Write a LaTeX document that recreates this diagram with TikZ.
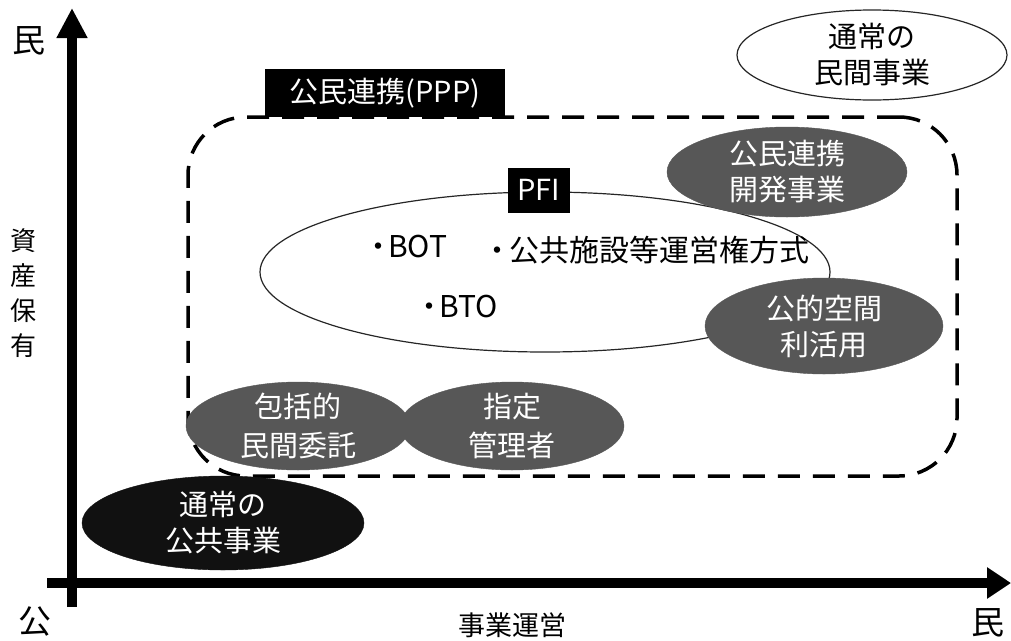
\documentclass[tikz,border=0pt]{standalone}
\usepackage{fontspec}
\setmainfont{Noto Sans CJK JP}
\usetikzlibrary{shapes.geometric,arrows.meta}
\definecolor{blobgray}{HTML}{575757}
\definecolor{darkblob}{HTML}{111111}
\tikzset{
  axis/.style={line width=10pt},
  blob/.style={shape=ellipse,inner sep=0pt,fill=blobgray,draw=blobgray},
  darkellipse/.style={shape=ellipse,inner sep=0pt,fill=darkblob,draw=darkblob},
  whiteellipse/.style={shape=ellipse,inner sep=0pt,fill=white,draw=black!85,line width=1.2pt},
  wtext/.style={text=white,font=\fontsize{29}{36}\selectfont,align=center,inner sep=0pt},
  btext/.style={text=black,font=\fontsize{29}{36}\selectfont,align=center,inner sep=0pt},
  itemtext/.style={text=black,font=\fontsize{30}{36}\selectfont,inner sep=0pt},
  tagbox/.style={fill=black,text=white,font=\fontsize{29}{32}\selectfont,inner sep=0pt},
  axlabel/.style={font=\fontsize{33}{36}\selectfont,inner sep=0pt},
  pppframe/.style={draw=black,line width=3.5pt,dash pattern=on 22pt off 13pt,rounded corners=58pt},
}
\begin{document}
\begin{tikzpicture}[x=1pt,y=-1pt]
\useasboundingbox (0,0) rectangle (1011,640);
% frame
\node[pppframe,minimum width=769pt,minimum height=359pt] (ppp) at (572.5,296.5) {};
% ellipses
\node[whiteellipse,minimum width=270pt,minimum height=90pt] (privE) at (872,55) {};
\node[btext] (privT) at (privE.center) {通常の\\民間事業};
\node[whiteellipse,minimum width=570pt,minimum height=160pt] (pfiE) at (545,272) {};
\node[blob,minimum width=240pt,minimum height=90pt] (devE) at (787,172) {};
\node[wtext] (devT) at (devE.center) {公民連携\\開発事業};
\node[blob,minimum width=238pt,minimum height=96pt] (pubE) at (824,326) {};
\node[wtext] (pubT) at (pubE.center) {公的空間\\利活用};
\node[blob,minimum width=224pt,minimum height=88pt] (compE) at (298,426) {};
\node[wtext,font=\fontsize{29}{39}\selectfont] (compT) at (compE.center) {包括的\\民間委託};
\node[blob,minimum width=224pt,minimum height=88pt] (desE) at (512,426) {};
\node[wtext,font=\fontsize{29}{39}\selectfont] (desT) at (desE.center) {指定\\管理者};
\node[darkellipse,minimum width=282pt,minimum height=94pt] (pubWorkE) at (223,523) {};
\node[wtext] (pubWorkT) at (pubWorkE.center) {通常の\\公共事業};
% items
\node[itemtext,anchor=west] (bot) at (363,247) {・\kern-5pt BOT};
\node[itemtext,anchor=west] (conc) at (482,250) {・\kern-3pt 公共施設等運営権方式};
\node[itemtext,anchor=west] (bto) at (414,306) {・\kern-5pt BTO};
% tag boxes
\node[tagbox,minimum width=240pt,minimum height=48pt] (pppTag) at (385,93) {公民連携(PPP)};
\node[tagbox,minimum width=62pt,minimum height=45pt] (pfiTag) at (539,190) {PFI};
% axes
\coordinate (vStart) at (72,607);
\coordinate (vEnd) at (72,8);
\coordinate (hStart) at (47,583);
\coordinate (hEnd) at (1011,583);
\draw[axis,-{Triangle[length=30pt,width=29pt]}] (vStart) -- (vEnd);
\draw[axis,-{Triangle[length=24pt,width=30pt]}] (hStart) -- (hEnd);
% axis labels
\node[axlabel] (minTop) at (29,41) {民};
\node[axlabel] (kou) at (35,622) {公};
\node[axlabel] (minRight) at (988,623) {民};
\node[axlabel,font=\fontsize{27}{30}\selectfont] (jigyo) at (512,625) {事業運営};
\node[axlabel,font=\fontsize{26}{35}\selectfont,align=center] (shisan) at (23,293) {資\\産\\保\\有};
\end{tikzpicture}
\end{document}
